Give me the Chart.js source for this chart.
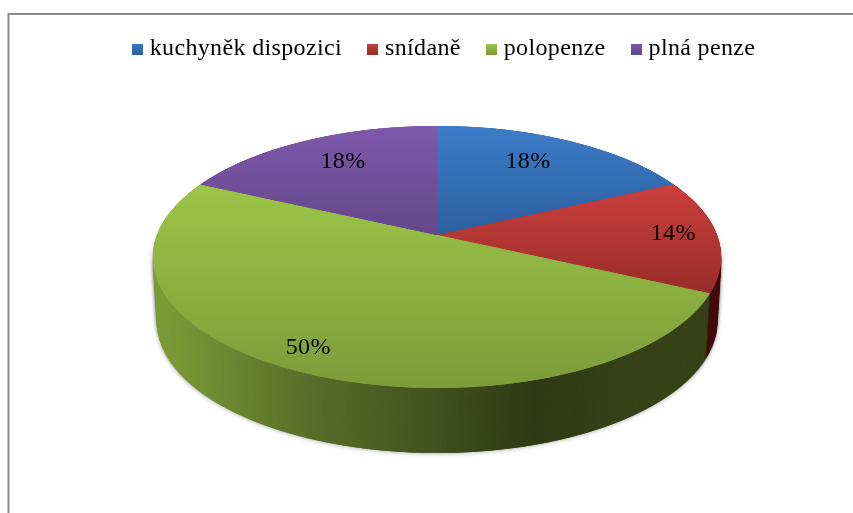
<!DOCTYPE html>
<html>
<head>
<meta charset="utf-8">
<style>
  html, body { margin: 0; padding: 0; background: #fff; overflow: hidden; }
  canvas { display: block; }
</style>
<script src="https://cdn.jsdelivr.net/npm/chart.js@4"></script>
</head>
<body>
<canvas id="chart" width="853" height="513"></canvas>
<script>
var categories = ['kuchyněk dispozici', 'snídaně', 'polopenze', 'plná penze'];
var shares = [18, 14, 50, 18];

var topLight = ['#3c7cc8', '#cd403d', '#9cc548', '#8058ab'];
var topDark = ['#2c5f9f', '#982c29', '#7d9c3a', '#64478a'];
var gradientRows = [[126, 235], [181, 293], [182, 388], [126, 235]];
var wallStops = [
  [[0, '#2c5f9f'], [1, '#1c3c66']],
  [[0, '#5a1212'], [1, '#430d0f']],
  [[0.02, '#7c9c39'], [0.26, '#5a702a'], [0.43, '#4a5a22'], [0.67, '#2f3a14'], [0.85, '#374318']],
  [[0, '#64478a'], [1, '#3c2a55']]
];
var labelReach = [0.72, 0.84, 0.84, 0.72];
var labelNudge = [[-7, -3], [1, -1], [-14, 2], [4, -3]];

// tilted disc, the slices meet behind the middle of the ellipse
var centerX = 437, apexY = 235, discHalfWidth = 280;
var tiltA = 127.3, tiltK = 0.168;
var topRow = 126, bottomRow = 389;
var wallDepth = 65, wallShrink = 4;

var W = 853, H = 513;

function projectArc(arc) {
  var layer = document.createElement('canvas');
  layer.width = W;
  layer.height = H;
  var c = layer.getContext('2d');
  var r = arc.outerRadius;
  for (var y = topRow; y < bottomRow; y++) {
    var t = apexY - (y + 0.5);
    var d = t / (tiltA - tiltK * t);
    var s = 1 / (1 + tiltK * d);
    var sx = discHalfWidth * s / r;
    var sy = tiltA * s * s / r;
    c.save();
    c.beginPath();
    c.rect(0, y, W, 1);
    c.clip();
    c.setTransform(sx, 0, 0, sy, centerX - arc.x * sx, y + 0.5 - (arc.y - d * r) * sy);
    arc.draw(c);
    c.restore();
  }
  return layer;
}

function paintLayer(layer, gradient) {
  var c = layer.getContext('2d');
  c.globalCompositeOperation = 'source-atop';
  c.fillStyle = gradient;
  c.fillRect(0, 0, W, H);
}

var tiltedPie = {
  id: 'tiltedPie',
  beforeUpdate: function (chart) {
    // legend text in the original is set a little wider than the font
    chart.ctx.letterSpacing = '0.35px';
  },
  beforeDatasetsDraw: function (chart) {
    var ctx = chart.ctx;
    var arcs = chart.getDatasetMeta(0).data;

    var wall = document.createElement('canvas');
    wall.width = W;
    wall.height = H;
    var tops = [];
    arcs.forEach(function (arc, i) {
      var side = projectArc(arc);
      var g = ctx.createLinearGradient(centerX - 284, 0, centerX + 284, 0);
      wallStops[i].forEach(function (stop) { g.addColorStop(stop[0], stop[1]); });
      paintLayer(side, g);
      wall.getContext('2d').drawImage(side, 0, 0);

      var face = projectArc(arc);
      var f = ctx.createLinearGradient(0, gradientRows[i][0], 0, gradientRows[i][1]);
      f.addColorStop(0, topLight[i]);
      f.addColorStop(1, topDark[i]);
      paintLayer(face, f);
      tops.push(face);
    });

    // soft edge under the wall first, then the wall itself on top of it
    var o, k;
    ctx.save();
    ctx.shadowColor = 'rgba(0,0,0,0.4)';
    ctx.shadowBlur = 5;
    for (o = wallDepth; o >= 0; o -= 12) {
      k = wallShrink * o / wallDepth / 284;
      ctx.drawImage(wall, centerX * k, o, W * (1 - k), H);
    }
    ctx.restore();
    for (o = wallDepth; o >= 0; o--) {
      k = wallShrink * o / wallDepth / 284;
      ctx.drawImage(wall, centerX * k, o, W * (1 - k), H);
    }
    tops.forEach(function (face) {
      ctx.drawImage(face, 0, 0);
      ctx.drawImage(face, 0, 0);
    });

    // percent labels
    ctx.save();
    ctx.font = '24px "Liberation Serif"';
    ctx.fillStyle = '#000';
    ctx.textAlign = 'center';
    ctx.textBaseline = 'middle';
    arcs.forEach(function (arc, i) {
      var mid = (arc.startAngle + arc.endAngle) / 2;
      var d = -Math.sin(mid) * labelReach[i];
      var x = Math.cos(mid) * labelReach[i];
      var s = 1 / (1 + tiltK * d);
      ctx.fillText(shares[i] + '%',
        centerX + discHalfWidth * x * s + labelNudge[i][0],
        apexY - tiltA * d * s + labelNudge[i][1]);
    });
    ctx.restore();
    return false;
  },
  beforeDraw: function (chart) {
    var ctx = chart.ctx;
    ctx.save();
    ctx.strokeStyle = '#8c8c8c';
    ctx.lineWidth = 2;
    ctx.beginPath();
    ctx.moveTo(W, 14);
    ctx.lineTo(8.5, 14);
    ctx.lineTo(8.5, H);
    ctx.stroke();
    ctx.restore();
  }
};

function legendBox(light, dark) {
  var box = document.createElement('canvas');
  box.width = 11;
  box.height = 11;
  var c = box.getContext('2d');
  var g = c.createLinearGradient(0, 0, 0, 11);
  g.addColorStop(0, light);
  g.addColorStop(1, dark);
  c.fillStyle = g;
  c.fillRect(0, 0, 11, 11);
  return box;
}

new Chart(document.getElementById('chart'), {
  type: 'pie',
  data: {
    labels: categories,
    datasets: [{
      data: shares,
      backgroundColor: '#000',
      borderWidth: 0
    }]
  },
  plugins: [tiltedPie],
  options: {
    responsive: false,
    animation: false,
    layout: { padding: { top: 6, left: 40, bottom: 20 } },
    plugins: {
      tooltip: { enabled: false },
      legend: {
        display: true,
        position: 'top',
        onClick: null,
        labels: {
          usePointStyle: true,
          pointStyleWidth: 0.01,
          boxHeight: 11,
          padding: 31,
          color: '#000',
          font: { family: '"Liberation Serif"', size: 24 },
          generateLabels: function () {
            return categories.map(function (name, i) {
              return {
                text: name,
                pointStyle: legendBox(topLight[i], topDark[i]),
                fillStyle: topLight[i],
                lineWidth: 0,
                strokeStyle: 'transparent',
                index: i
              };
            });
          }
        }
      }
    }
  }
});
</script>
</body>
</html>
